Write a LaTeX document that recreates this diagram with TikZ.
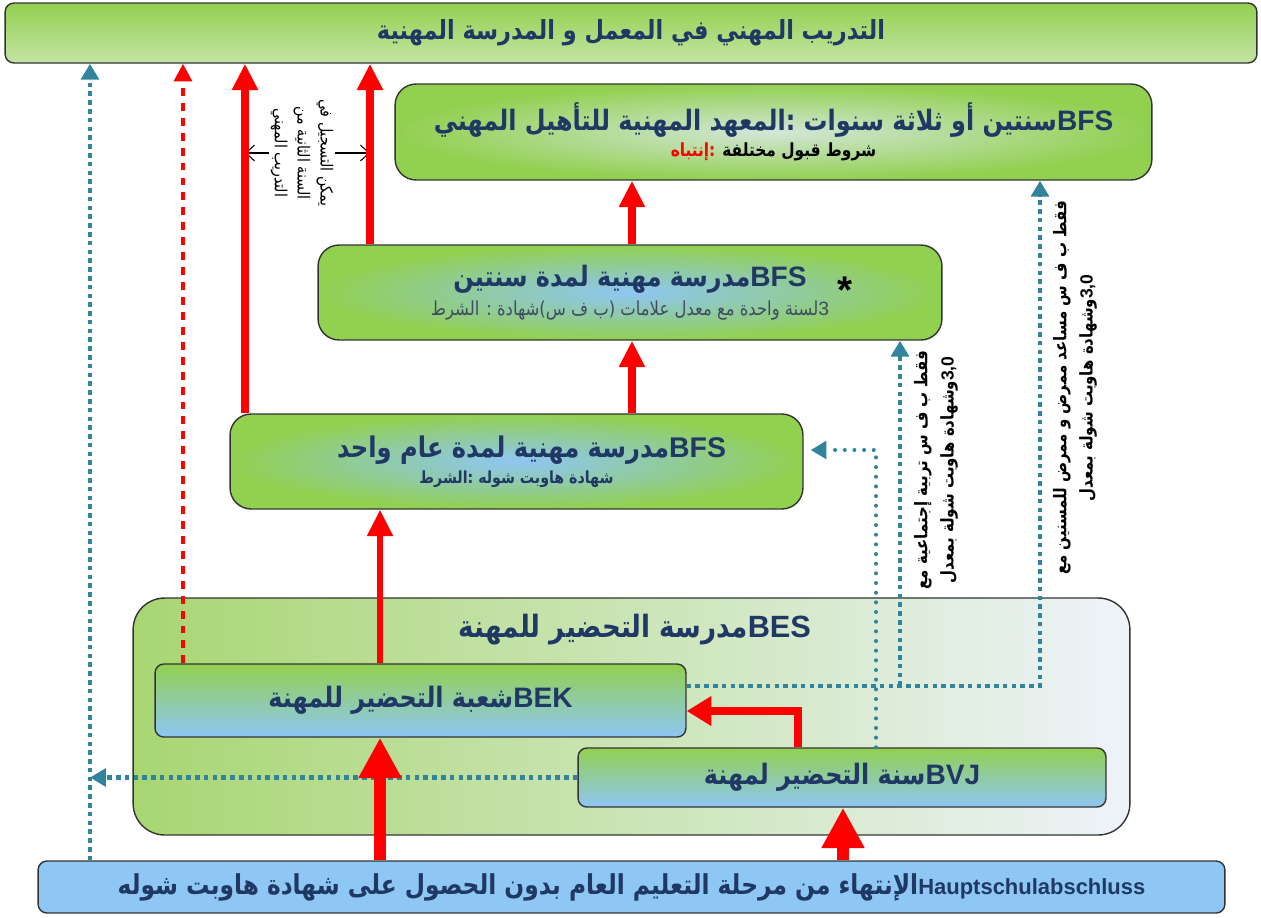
\documentclass[tikz,border=0pt]{standalone}
\usepackage{fontspec}
\usetikzlibrary{arrows.meta}
\TeXXeTstate=1
\newfontfamily\arabicfont[Script=Arabic,FakeStretch=0.85]{DejaVu Sans}
\newfontfamily\latinfont{Liberation Sans}
\newcommand\ar[1]{{\arabicfont\beginR #1\endR}}
\newcommand\la[1]{\beginL{\latinfont #1}\endL}
\definecolor{grn}{HTML}{92D050}
\definecolor{grnl}{HTML}{C5E4A4}
\definecolor{lblue}{HTML}{8EC6F4}
\definecolor{paleg}{HTML}{D3E6D8}
\definecolor{bgreen}{HTML}{A8D672}
\definecolor{pale}{HTML}{EEF3FA}
\definecolor{navy}{HTML}{1F3864}
\definecolor{tealc}{HTML}{31849B}
\definecolor{greytxt}{HTML}{3F4C60}
\begin{document}
\begin{tikzpicture}[x=0.02cm,y=-0.02cm,
  box/.style={draw=black!80,line width=0.8pt,rounded corners=#1,align=center,inner sep=0pt,font=\bfseries,text=navy},
  box/.default=5pt,
  big/.style={font=\bfseries\fontsize{16}{20}\selectfont,text=navy},
  redup/.style={draw=red,line width=4.5pt,-{Triangle[length=15pt,width=14pt]}},
  redbig/.style={draw=red,line width=7pt,-{Triangle[length=23pt,width=23pt]}},
  reddash/.style={draw=red,line width=2.3pt,dash pattern=on 4.5pt off 4pt,-{Triangle[length=10pt,width=10pt]}},
  tealdot/.style={draw=tealc,line width=2.3pt,dash pattern=on 2.6pt off 2.4pt},
  tealarr/.style={tealdot,-{Triangle[length=9pt,width=10pt]}},
  tealround/.style={draw=tealc,line width=2.3pt,line cap=round,dash pattern=on 0pt off 5.5pt,-{Triangle[length=9pt,width=10pt]}},
  side/.style={font=\bfseries\fontsize{10}{15}\selectfont,align=center,inner sep=1pt}
]
\useasboundingbox (0,0) rectangle (1261,917);
% columns and rows
\coordinate (xa) at (90,0);
\coordinate (xb) at (183,0);
\coordinate (xc) at (245,0);
\coordinate (xd) at (370,0);
\coordinate (xe) at (380,0);
\coordinate (xf) at (632,0);
\coordinate (xg) at (798,0);
\coordinate (xh) at (843,0);
\coordinate (xi) at (876,0);
\coordinate (xj) at (900,0);
\coordinate (xk) at (1040,0);
\coordinate (ya) at (0,450);
\coordinate (yb) at (0,686);
\coordinate (yc) at (0,711);

% boxes
\node[box, top color=grn, bottom color=grnl, minimum width=25.04cm, minimum height=1.2cm, big, font=\bfseries\fontsize{15}{19}\selectfont] (banner) at (631,33)
  {\ar{التدريب المهني في المعمل و المدرسة المهنية}};
\node[box=12pt, inner color=paleg, outer color=grn, minimum width=15.14cm, minimum height=1.92cm] (bfsthree) at (773.5,132)
  {{\fontsize{16}{20}\selectfont\ar{\la{BFS}سنتين أو ثلاثة سنوات :المعهد المهنية للتأهيل المهني}}\\[3pt]
   {\fontsize{10.3}{12}\selectfont{\color{red}\ar{:إنتباه}}\ {\color{black}\ar{شروط قبول مختلفة}}}};
\node[box=12pt, inner color=lblue, outer color=grn, minimum width=12.48cm, minimum height=1.9cm] (bfstwo) at (630,292.5)
  {{\fontsize{16}{20}\selectfont\ar{\la{BFS}مدرسة مهنية لمدة سنتين}}\\[3pt]
   {\mdseries\color{greytxt}\fontsize{11}{13}\selectfont\ar{\la{3}لسنة واحدة مع معدل علامات (ب ف س)شهادة : الشرط}}};
\node[box=12pt, inner color=lblue, outer color=grn, minimum width=11.46cm, minimum height=1.9cm] (bfsone) at (516.5,461.5)
  {\hspace*{0.6cm}{\fontsize{16.2}{20}\selectfont\ar{\la{BFS}مدرسة مهنية لمدة عام واحد}}\\[3pt]
   {\fontsize{9.5}{12}\selectfont\ar{شهادة هاوبت شوله :الشرط}}};
\node[box=18pt, left color=bgreen, right color=pale, minimum width=19.94cm, minimum height=4.74cm] (bes) at (631.5,716.5) {};
\node[big, font=\bfseries\fontsize{17.5}{21}\selectfont] (bestitle) at (635,630) {\ar{\la{BES}مدرسة التحضير للمهنة}};
\node[box, top color=grn, bottom color=lblue, minimum width=10.62cm, minimum height=1.46cm, big] (bek) at (420.5,700.5)
  {\ar{\la{BEK}شعبة التحضير للمهنة}};
\node[box, top color=grn, bottom color=lblue, minimum width=10.56cm, minimum height=1.18cm, big] (bvj) at (842,777.5)
  {\ar{\la{BVJ}سنة التحضير لمهنة}};
\node[box, fill=lblue, minimum width=23.74cm, minimum height=1.04cm, big, font=\bfseries\fontsize{15.6}{19}\selectfont] (hsa) at (631.5,887)
  {\ar{{\fontsize{12.5}{14}\selectfont\la{Hauptschulabschluss}}الإنتهاء من مرحلة التعليم العام بدون الحصول على شهادة هاوبت شوله}};
\node[font=\bfseries\fontsize{22}{22}\selectfont\latinfont] (star) at (845,290) {*};

% side notes
\node[rotate=-90, align=center, font=\fontsize{9.5}{13}\selectfont, inner sep=1pt] (note) at (302,153)
  {\ar{يمكن التسجيل في}\\\ar{السنة الثانية من}\\\ar{التدريب المهني}};
\node[side, rotate=90] (notea) at (936,470)
  {\ar{فقط ب ف س تربية إجتماعية مع}\\\ar{\la{3,0}وشهادة هاوبت شولة بمعدل}};
\node[side, rotate=90] (noteb) at (1075,388)
  {\ar{فقط ب ف س مساعد ممرض و ممرض للمسنين مع}\\\ar{\la{3,0}وشهادة هاوبت شولة بمعدل}};
\draw[line width=0.6pt,-{Straight Barb[length=5pt,width=9pt]}] (note.south) -- (note.south -| xc);
\draw[line width=0.6pt,-{Straight Barb[length=5pt,width=9pt]}] (note.north) -- (note.north -| xd);

% teal paths
\draw[tealarr] (hsa.north -| xa) -- (banner.south -| xa);
\draw[tealarr] (bvj.west) -- (bvj.west -| xa);
\draw[tealarr] (bek.east |- yb) -- (yb -| xk) -- (bfsthree.south -| xk);
\draw[tealarr] (yb -| xj) -- (bfstwo.south -| xj);
\draw[tealround, shorten >=4pt] (bvj.north -| xi) -- (xi |- ya) -- (bfsone.east |- ya);

% red arrows
\draw[redup] (bfsone.north -| xc) -- (banner.south -| xc);
\draw[redup] (bfstwo.north -| xd) -- (banner.south -| xd);
\draw[redup] (bfstwo.north -| xf) -- (bfsthree.south -| xf);
\draw[redup] (bfsone.north -| xf) -- (bfstwo.south -| xf);
\draw[redup, line width=3.5pt] (bek.north -| xe) -- (bfsone.south -| xe);
\draw[reddash] (bek.north -| xb) -- (banner.south -| xb);
\draw[redup, -{Triangle[length=14pt,width=16pt]}] (bvj.north -| xg) -- (xg |- yc) -- (bek.east |- yc);
\draw[redbig] (hsa.north -| xe) -- (bek.south -| xe);
\draw[redbig] (hsa.north -| xh) -- (bvj.south -| xh);
\end{tikzpicture}
\end{document}
